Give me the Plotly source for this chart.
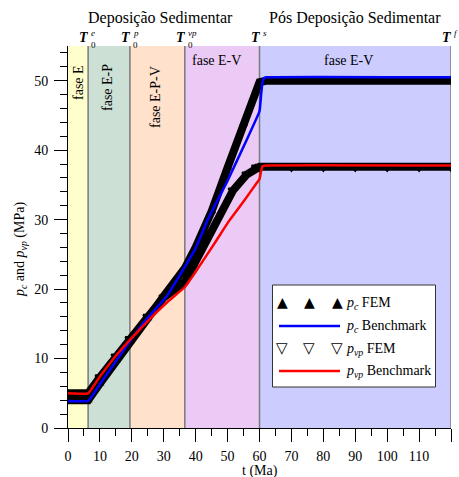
import plotly.graph_objects as go

# ---- data ----
phase_bounds = [0, 6.3, 19.4, 36.6, 60, 120]
phase_colors = ["#FFFFCC", "#CCE0D6", "#FFE1CC", "#EBCBF5", "#CCCCFF"]

t_pc_fem = [0, 3, 6.3, 10, 15, 19.4, 25, 30, 36.6, 40, 45, 50, 55, 60, 62, 70, 80, 90, 100, 110, 120]
pc_fem = [4.0, 4.0, 4.0, 6.4, 9.7, 12.5, 15.8, 19.0, 23.0, 26.0, 31.2, 37.5, 43.8, 49.8, 50.0, 50.0, 50.0, 50.0, 50.0, 50.0, 50.0]

t_pc_bm = [0, 6.3, 10, 15, 19.4, 25, 30.8, 36.6, 40, 43.8, 50, 55.9, 60, 60.5, 61, 61.5, 62, 120]
pc_bm = [3.9, 3.9, 6.3, 9.6, 12.5, 15.9, 18.9, 23.2, 25.9, 30.0, 35.6, 41.4, 45.6, 48.0, 50.0, 50.4, 50.5, 50.5]

t_pvp_fem = [0, 3, 6.3, 10, 15, 19.4, 25, 30, 36.6, 39.1, 44.4, 51.7, 56, 59, 60, 70, 80, 90, 100, 110, 120]
pvp_fem = [5.0, 5.0, 5.0, 7.3, 10.3, 12.8, 16.0, 18.8, 21.0, 23.2, 28.0, 34.2, 36.5, 37.5, 37.6, 37.6, 37.6, 37.6, 37.6, 37.6, 37.6]

t_pvp_bm = [0, 6.3, 10, 15, 19.4, 25, 30.8, 36.6, 40, 46.5, 50, 55, 59, 60, 60.5, 61, 62, 120]
pvp_bm = [5.0, 5.0, 7.4, 10.4, 12.7, 15.4, 18.0, 20.3, 22.5, 27.0, 29.5, 32.6, 35.2, 35.8, 37.0, 37.7, 37.8, 37.8]

FONT = "Liberation Serif, Times New Roman, serif"

fig = go.Figure()
fig.add_trace(go.Scatter(x=t_pc_fem, y=pc_fem, mode="lines+markers",
                         line=dict(color="black", width=8),
                         marker=dict(symbol="triangle-up", size=8, color="black"),
                         name="pc FEM", showlegend=False))
fig.add_trace(go.Scatter(x=t_pvp_fem, y=pvp_fem, mode="lines+markers",
                         line=dict(color="black", width=8),
                         marker=dict(symbol="triangle-down-open", size=8, color="black",
                                     line=dict(width=2)),
                         name="pvp FEM", showlegend=False))
fig.add_trace(go.Scatter(x=t_pc_bm, y=pc_bm, mode="lines",
                         line=dict(color="#0000FF", width=2.5, shape="spline", smoothing=0.3),
                         name="pc Benchmark", showlegend=False))
fig.add_trace(go.Scatter(x=t_pvp_bm, y=pvp_bm, mode="lines",
                         line=dict(color="#FF0000", width=2.5, shape="spline", smoothing=0.3),
                         name="pvp Benchmark", showlegend=False))

shapes = []
for i in range(5):
    shapes.append(dict(type="rect", xref="x", yref="paper", x0=phase_bounds[i], x1=phase_bounds[i + 1],
                       y0=0, y1=1, fillcolor=phase_colors[i], line=dict(width=0), layer="below"))
for b in phase_bounds[1:]:
    shapes.append(dict(type="line", xref="x", yref="paper", x0=b, x1=b, y0=0, y1=1,
                       line=dict(color="#7a7a7a", width=1.5), layer="below"))

# manual legend box (paper coords)
W, H = 459, 477
L, R, T, B = 68, 8, 46, 49
pw, ph = W - L - R, H - T - B
def px(x):
    return (x - L) / pw
def py(y):
    return (H - B - y) / ph

shapes.append(dict(type="rect", xref="paper", yref="paper", x0=px(272.5), x1=px(435.5),
                   y0=py(387), y1=py(285), fillcolor="white", line=dict(color="#333333", width=1)))
rows = [303, 326, 349, 371]
shapes.append(dict(type="line", xref="paper", yref="paper", x0=px(279), x1=px(340), y0=py(rows[1]), y1=py(rows[1]),
                   line=dict(color="#0000FF", width=2.5)))
shapes.append(dict(type="line", xref="paper", yref="paper", x0=px(279), x1=px(340), y0=py(rows[3]), y1=py(rows[3]),
                   line=dict(color="#FF0000", width=2.5)))

ann = []
def a(text, x, y, size=14, **kw):
    d = dict(text=text, xref="paper", yref="paper", x=px(x), y=py(y), showarrow=False,
             xanchor="center", yanchor="middle",
             font=dict(family=FONT, size=size, color="black"))
    d.update(kw)
    ann.append(d)

for xx in [282, 309, 337]:
    a("▲", xx, rows[0] - 1, font=dict(family="DejaVu Sans", size=14, color="black"))
    a("▽", xx, rows[2] - 1, font=dict(family="DejaVu Sans", size=15, color="black"))
a("<i>p</i><sub><i>c</i></sub> FEM", 344, rows[0], xanchor="left")
a("<i>p</i><sub><i>c</i></sub> Benchmark", 344, rows[1], xanchor="left")
a("<i>p</i><sub><i>vp</i></sub> FEM", 344, rows[2], xanchor="left")
a("<i>p</i><sub><i>vp</i></sub> Benchmark", 344, rows[3], xanchor="left")

# headers
a("Deposição Sedimentar", 160, 18, size=16)
a("Pós Deposição Sedimentar", 355, 18, size=16)

# T labels
t_names = [("e", 88), ("p", 130), ("vp", 185), ("s", 260), ("f", 451)]
for i, (sup, xb) in enumerate(t_names):
    a("<b><i>T</i></b>", xb - 4, 38, size=14)
    a("<i>%s</i>" % sup, xb + 1, 33, size=9, xanchor="left")
    if i < 3:
        a("0", xb + 1, 45, size=9, xanchor="left")

# phase labels
a("fase E", 79, 83, textangle=-90)
a("fase E-P", 108, 88, textangle=-90)
a("fase E-P-V", 156, 97, textangle=-90)
a("fase E-V", 216, 61)
a("fase E-V", 348, 61)

# axis titles
a("<i>p</i><sub><i>c</i></sub> and <i>p</i><sub><i>vp</i></sub> (MPa)", 20, 250, textangle=-90)
a("t (Ma)", 260, 471)

fig.update_layout(
    width=W, height=H,
    margin=dict(l=L, r=R, t=T, b=B, autoexpand=False),
    paper_bgcolor="white", plot_bgcolor="white",
    font=dict(family=FONT, size=14, color="black"),
    shapes=shapes, annotations=ann,
    showlegend=False,
)
fig.update_xaxes(range=[0, 120], dtick=10, tick0=0, ticks="outside", ticklen=13, tickwidth=1,
                 tickcolor="black", showline=True, linecolor="black", linewidth=1,
                 showgrid=False, zeroline=False, automargin=False, ticklabelstandoff=2,
                 minor=dict(dtick=5, ticks="outside", ticklen=7, tickcolor="black", showgrid=False),
                 tickfont=dict(family=FONT, size=14, color="black"))
fig.update_yaxes(range=[0, 55], tickvals=[0, 10, 20, 30, 40, 50], ticks="outside", ticklen=13, tickwidth=1,
                 tickcolor="black", showline=True, linecolor="black", linewidth=1,
                 showgrid=False, zeroline=False, automargin=False, ticklabelstandoff=3,
                 minor=dict(tickvals=[2, 4, 6, 8, 12, 14, 16, 18, 22, 24, 26, 28, 32, 34, 36, 38, 42, 44, 46, 48, 52, 54],
                            ticks="outside", ticklen=7, tickcolor="black", showgrid=False),
                 tickfont=dict(family=FONT, size=14, color="black"))

fig.write_html("out.html", config={"displayModeBar": False},
               post_script="document.body.style.margin='0';")
